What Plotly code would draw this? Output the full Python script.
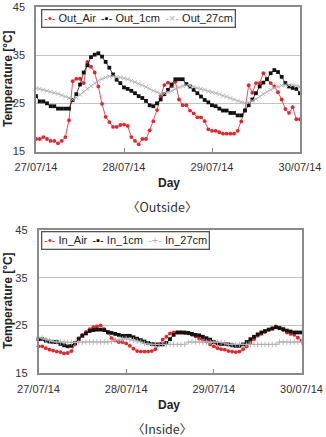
import pandas as pd
import plotly.graph_objects as go

W, H = 326, 437
time = pd.date_range("2014-07-27 00:00", periods=73, freq="h")

out_air = [17.6, 17.6, 18.0, 17.6, 17.2, 17.2, 16.7, 17.2, 18.0, 21.5, 29.6, 30.1, 30.1, 29.2, 33.6, 32.6, 31.4, 28.5, 24.9, 22.2, 21.1, 20.1, 20.1, 20.5, 20.6,
           20.3, 18.0, 17.2, 16.5, 17.6, 17.6, 19.4, 21.3, 23.6, 26.5, 28.8, 29.3, 28.5, 29.5, 25.8, 24.6, 24.6, 23.5, 22.9, 22.1, 22.1, 21.3, 19.6, 19.3,
           19.3, 19.0, 18.7, 18.7, 18.7, 18.7, 19.3, 21.25, 23.6, 28.75, 27.2, 29.2, 29.2, 31.25, 30.1, 29.2, 28.5, 27.3, 25.8, 23.8, 23.0, 24.2, 21.7, 21.7]
out_1cm = [26.5, 25.4, 25.4, 25.0, 24.4, 24.4, 23.9, 23.9, 23.9, 23.9, 25.7, 26.9, 28.9, 31.4, 32.9, 34.6, 35.1, 35.4, 34.7, 33.6, 32.4, 31.0, 29.9, 29.2, 28.3,
           28.0, 27.6, 27.1, 26.5, 26.1, 25.5, 24.6, 24.4, 25.0, 25.8, 26.9, 27.8, 28.9, 30.0, 30.0, 30.0, 29.0, 28.5, 27.8, 27.1, 26.4, 25.7, 25.2, 24.6,
           24.4, 23.9, 23.5, 23.5, 23.0, 23.0, 22.5, 22.5, 23.5, 24.6, 25.8, 27.1, 28.5, 29.3, 30.0, 31.25, 31.9, 31.5, 30.5, 29.2, 28.5, 28.2, 28.0, 27.1]
out_27cm = [28.1, 28.0, 27.8, 27.6, 27.4, 27.2, 27.0, 26.7, 26.4, 26.1, 25.8, 26.2, 26.8, 27.4, 28.0, 28.6, 29.2, 29.7, 30.1, 30.4, 30.6, 30.6, 30.5, 30.4, 30.2,
            30.0, 29.7, 29.4, 29.1, 28.8, 28.4, 28.0, 27.6, 27.3, 27.0, 27.1, 27.3, 27.6, 28.0, 28.3, 28.6, 28.7, 28.6, 28.4, 28.2, 28.0, 27.8, 27.5, 27.3,
            27.1, 26.9, 26.6, 26.4, 26.1, 25.8, 25.5, 25.3, 25.1, 25.2, 25.5, 25.9, 26.4, 26.9, 27.4, 27.8, 28.2, 28.5, 28.7, 28.8, 28.8, 28.8, 28.6, 28.4]

in_air = [20.6, 20.6, 20.2, 19.9, 19.7, 19.5, 19.4, 19.1, 19.2, 19.6, 21.0, 22.3, 23.0, 23.6, 24.2, 24.6, 24.8, 25.0, 24.2, 23.4, 22.3, 21.8, 21.5, 21.5, 21.2,
          20.7, 20.1, 19.6, 19.5, 19.5, 19.5, 19.6, 20.0, 21.0, 22.0, 22.6, 23.3, 23.5, 23.5, 23.5, 23.4, 23.3, 23.0, 22.7, 22.2, 22.0, 21.6, 21.0, 20.6,
          20.2, 20.0, 19.9, 19.6, 19.5, 19.4, 19.5, 20.0, 20.6, 21.4, 22.1, 22.8, 23.2, 23.6, 24.1, 24.4, 24.8, 24.5, 24.0, 23.5, 23.2, 23.0, 22.4, 21.8]
in_1cm = [22.1, 22.1, 21.8, 21.6, 21.5, 21.5, 21.1, 20.8, 20.6, 20.7, 21.3, 22.1, 22.8, 23.3, 23.8, 24.0, 24.1, 24.1, 24.0, 23.6, 23.4, 23.2, 23.0, 22.8, 22.8,
          22.8, 22.5, 22.2, 21.9, 21.6, 21.3, 21.1, 21.0, 21.0, 21.0, 21.3, 22.1, 23.0, 23.5, 23.5, 23.5, 23.4, 23.2, 23.0, 22.9, 22.6, 22.3, 22.0, 21.5,
          21.2, 21.1, 21.1, 21.0, 20.8, 20.7, 20.7, 21.0, 21.5, 22.1, 22.6, 23.1, 23.5, 23.8, 24.1, 24.3, 24.6, 24.4, 24.2, 23.9, 23.7, 23.5, 23.5, 23.5]
in_27cm = [22.5, 22.3, 22.0, 21.8, 21.6, 21.5, 21.5, 21.5, 21.4, 21.4, 21.4, 21.4, 21.4, 21.5, 21.5, 21.5, 21.5, 21.5, 21.5, 21.5, 21.6, 21.9, 22.0, 22.1, 22.2,
           22.0, 21.9, 21.7, 21.5, 21.2, 21.1, 21.0, 21.0, 21.0, 21.0, 21.0, 21.0, 21.0, 21.0, 21.0, 21.0, 21.5, 21.5, 21.5, 21.5, 21.5, 21.5, 21.5, 21.5,
           21.5, 21.4, 21.3, 21.0, 21.0, 21.0, 21.0, 21.0, 21.0, 21.0, 21.0, 21.0, 21.0, 21.0, 21.0, 21.0, 21.0, 21.5, 21.5, 21.5, 21.5, 21.5, 21.5, 21.5]

y_ticks = [15, 25, 35, 45]
x_ticks = ["2014-07-27", "2014-07-28", "2014-07-29", "2014-07-30"]
x_tick_labels = ["27/07/14", "28/07/14", "29/07/14", "30/07/14"]

RED, BLACK, GRAY = "#e8232a", "#111111", "#b0b0b0"
FONT = "Liberation Sans"


def px(x):
    return x / W


def py(y):
    return 1 - y / H


fig = go.Figure()

series = [
    (out_air, "Out_Air", RED, "circle", "x", "y"),
    (out_1cm, "Out_1cm", BLACK, "square", "x", "y"),
    (out_27cm, "Out_27cm", GRAY, "x-thin", "x", "y"),
    (in_air, "In_Air", RED, "circle", "x2", "y2"),
    (in_1cm, "In_1cm", BLACK, "square", "x2", "y2"),
    (in_27cm, "In_27cm", GRAY, "cross-thin", "x2", "y2"),
]
for vals, name, col, sym, xa, ya in series:
    thin = sym.endswith("thin")
    fig.add_trace(go.Scatter(
        x=time, y=vals, name=name, mode="lines+markers", xaxis=xa, yaxis=ya,
        line=dict(color=col, width=0.8),
        marker=dict(symbol=sym, size=3.8 if not thin else 4, color=col,
                    line=dict(width=0.9 if thin else 0, color=col)),
        cliponaxis=False, showlegend=False))

xcommon = dict(type="date", range=["2014-07-27", "2014-07-30"], tickvals=x_ticks,
               ticktext=x_tick_labels, showgrid=False, ticks="inside", ticklen=4,
               tickcolor="#888", showline=True, mirror=True, linecolor="#8a8a8a",
               linewidth=1.5, tickfont=dict(family=FONT, size=11, color="#333"),
               ticklabelstandoff=5, zeroline=False, automargin=False)
ycommon = dict(range=[15, 45], tickvals=y_ticks, showgrid=True, gridcolor="#c4c4c4",
               gridwidth=1, ticks="", showline=True, mirror=True, linecolor="#8a8a8a",
               linewidth=1.5, tickfont=dict(family=FONT, size=11, color="#333"),
               ticklabelstandoff=7, zeroline=False, automargin=False)

fig.update_layout(
    template="none",
    width=W, height=H, autosize=False, margin=dict(l=0, r=0, t=0, b=0, autoexpand=False),
    paper_bgcolor="white", plot_bgcolor="white",
    xaxis=dict(domain=[px(36), px(300)], anchor="y", **xcommon),
    yaxis=dict(domain=[py(151.5), py(7)], anchor="x", **ycommon),
    xaxis2=dict(domain=[px(38.5), px(301.5)], anchor="y2", **xcommon),
    yaxis2=dict(domain=[py(373), py(230)], anchor="x2", **ycommon),
)


def legend_text(names, syms):
    cols = [RED, BLACK, GRAY]
    parts = []
    for n, s, c in zip(names, syms, cols):
        parts.append(f"<span style='color:{c}'>-{s}-</span> {n}")
    return " \u2009".join(parts)


anns = []
for (yc, names, syms) in [(18.5, ["Out_Air", "Out_1cm", "Out_27cm"], ["•", "▪", "×"]),
                          (240.5, ["In_Air", "In_1cm", "In_27cm"], ["•", "▪", "+"])]:
    txt = legend_text(names, syms)
    anns.append(dict(x=px(41), y=py(yc), xref="paper", yref="paper",
                     xanchor="left", yanchor="middle", text=txt, showarrow=False,
                     font=dict(family=FONT, size=11, color="#222"),
                     bgcolor="white", borderpad=2, borderwidth=1.3, bordercolor="#555"))

for yc in [79, 301]:
    anns.append(dict(x=px(8), y=py(yc), xref="paper", yref="paper", text="<b>Temperature [°C]</b>",
                     textangle=-90, showarrow=False, xanchor="center", yanchor="middle",
                     font=dict(family=FONT, size=12, color="#222")))
for yc in [183, 405]:
    anns.append(dict(x=px(169), y=py(yc), xref="paper", yref="paper", text="<b>Day</b>",
                     showarrow=False, xanchor="center", yanchor="middle",
                     font=dict(family=FONT, size=12, color="#222")))
for yc, cap in [(206, "〈Outside〉"), (428, "〈Inside〉")]:
    anns.append(dict(x=px(162), y=py(yc), xref="paper", yref="paper", text=cap,
                     showarrow=False, xanchor="center", yanchor="middle",
                     font=dict(family="Noto Sans CJK KR", size=12.5, color="#333")))

fig.update_layout(annotations=anns)
fig.write_html("out.html")
